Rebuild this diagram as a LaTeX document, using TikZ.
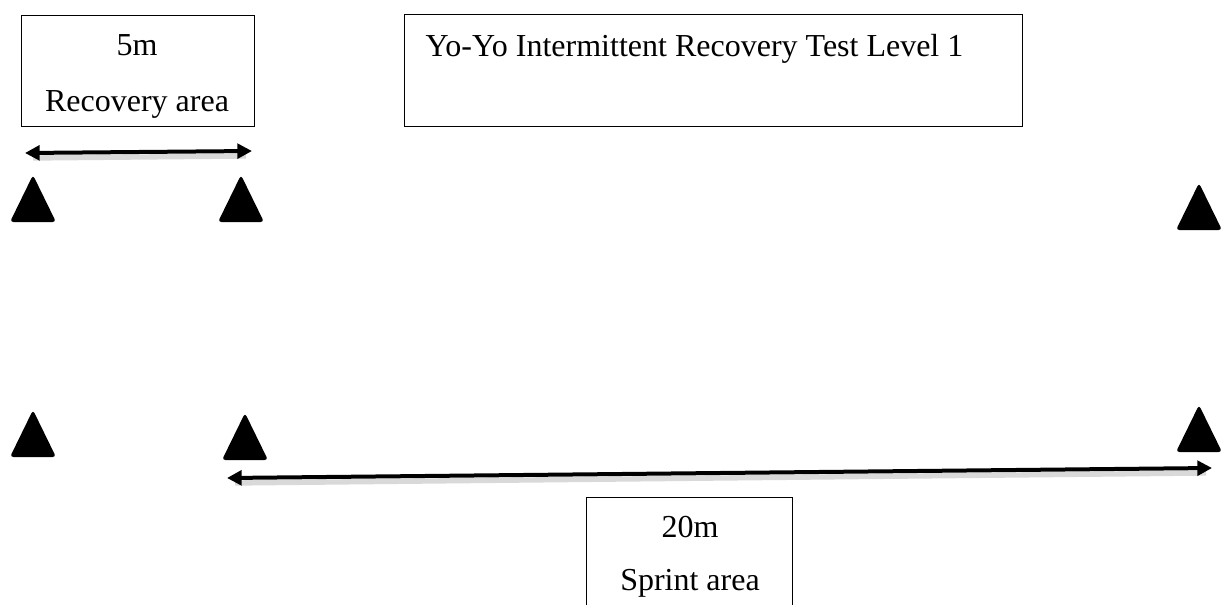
\documentclass[tikz,border=0pt]{standalone}
\usepackage{fontspec}
\setmainfont{Liberation Serif}
\usetikzlibrary{arrows.meta,calc}

\tikzset{every picture/.style={line width=0.75pt}}
\tikzset{
  lbl/.style={font=\fontsize{24}{28}\selectfont, inner sep=0pt},
  cone/.style={fill=black, rounded corners=2.5},
  span/.style={line width=3pt, {Triangle[length=11pt,width=11pt]}-{Triangle[length=11pt,width=11pt]}},
  spanshadow/.style={line width=4pt, black!15}
}
\newcommand{\cone}[2]{\fill[cone] (#1,#2) -- ++(23,47) -- ++(-46,0) -- cycle;}

\begin{document}
\begin{tikzpicture}[x=0.75pt,y=0.75pt,yscale=-1,xscale=1]
\clip (0,0) rectangle (1224,604);

%Boxes
\draw   (21,15) rectangle (254,126) ;
\draw   (404,14) rectangle (1022,126) ;
\draw   (586,610) -- (586,497) -- (792,497) -- (792,610) ;

%Cones
\cone{33}{175}
\cone{241}{175}
\cone{1199}{183}
\cone{33}{410}
\cone{245}{413}
\cone{1199}{405}

%Arrow ends
\coordinate (recL) at (25,153);
\coordinate (recR) at (252,151);
\coordinate (sprL) at (227,478);
\coordinate (sprR) at (1212,468);

%Arrows
\draw[spanshadow] ($(recL)+(8,5)$) -- ($(recR)+(-6,5)$) ;
\draw[span] (recL) -- (recR) ;
\draw[spanshadow] ($(sprL)+(8,5)$) -- ($(sprR)+(-6,5)$) ;
\draw[span] (sprL) -- (sprR) ;

% Text Node
\node[lbl, anchor=base] (rec5) at (137,55) {5m};
\node[lbl, anchor=base] (recarea) at (137,111) {Recovery area};
\node[lbl, anchor=base west] (title) at (425,56) {Yo-Yo Intermittent Recovery Test Level 1};
\node[lbl, anchor=base] (spr20) at (690,537) {20m};
\node[lbl, anchor=base] (sprarea) at (690,590) {Sprint area};

\end{tikzpicture}
\end{document}
